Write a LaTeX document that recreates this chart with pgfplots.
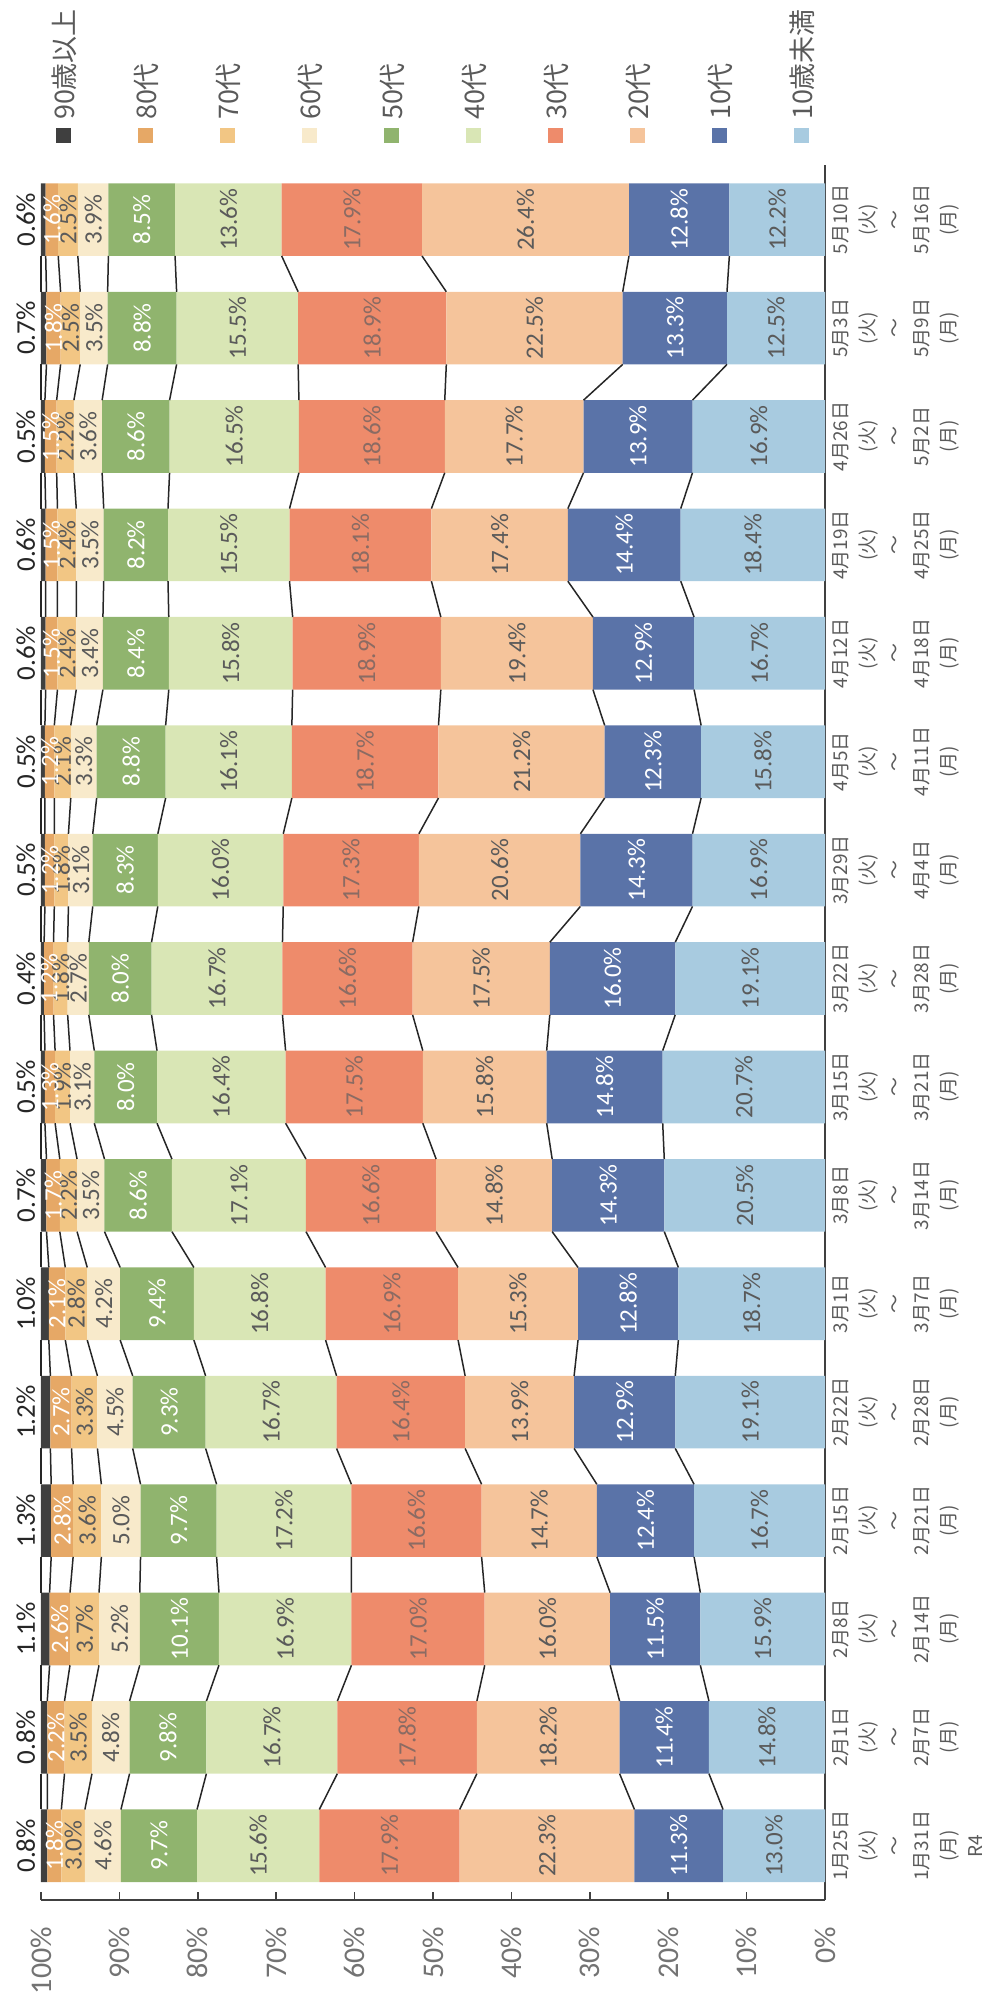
\documentclass[border=0pt]{standalone}
\usepackage{fontspec}
\setmainfont{Carlito}
\newfontfamily\jp{Noto Sans CJK JP}
\usepackage{pgfplots}
\pgfplotsset{compat=1.18}
\usepackage{pgfplotstable}

\definecolor{s0}{HTML}{A8CBE0}
\definecolor{s1}{HTML}{5A73A8}
\definecolor{s2}{HTML}{F5C49B}
\definecolor{s3}{HTML}{EE8B6B}
\definecolor{s4}{HTML}{D9E6B5}
\definecolor{s5}{HTML}{90B46E}
\definecolor{s6}{HTML}{F8EACB}
\definecolor{s7}{HTML}{F2C684}
\definecolor{s8}{HTML}{E6A866}
\definecolor{s9}{HTML}{3F3F3F}
\definecolor{txtdark}{HTML}{5A5A5A}
\definecolor{txtred}{HTML}{8B6B63}
\definecolor{axcol}{HTML}{404040}

% columns: a0 = under 10, a1 = 10s, ..., a8 = 80s, a9 = 90 and over
\pgfplotstableread{
idx a0 a1 a2 a3 a4 a5 a6 a7 a8 a9
0 13.0 11.3 22.3 17.9 15.6 9.7 4.6 3.0 1.8 0.8
1 14.8 11.4 18.2 17.8 16.7 9.8 4.8 3.5 2.2 0.8
2 15.9 11.5 16.0 17.0 16.9 10.1 5.2 3.7 2.6 1.1
3 16.7 12.4 14.7 16.6 17.2 9.7 5.0 3.6 2.8 1.3
4 19.1 12.9 13.9 16.4 16.7 9.3 4.5 3.3 2.7 1.2
5 18.7 12.8 15.3 16.9 16.8 9.4 4.2 2.8 2.1 1.0
6 20.5 14.3 14.8 16.6 17.1 8.6 3.5 2.2 1.7 0.7
7 20.7 14.8 15.8 17.5 16.4 8.0 3.1 1.9 1.3 0.5
8 19.1 16.0 17.5 16.6 16.7 8.0 2.7 1.8 1.2 0.4
9 16.9 14.3 20.6 17.3 16.0 8.3 3.1 1.8 1.2 0.5
10 15.8 12.3 21.2 18.7 16.1 8.8 3.3 2.1 1.2 0.5
11 16.7 12.9 19.4 18.9 15.8 8.4 3.4 2.4 1.5 0.6
12 18.4 14.4 17.4 18.1 15.5 8.2 3.5 2.4 1.5 0.6
13 16.9 13.9 17.7 18.6 16.5 8.6 3.6 2.2 1.5 0.5
14 12.5 13.3 22.5 18.9 15.5 8.8 3.5 2.5 1.8 0.7
15 12.2 12.8 26.4 17.9 13.6 8.5 3.9 2.5 1.6 0.6
}\data
% cumulative boundaries c1..c10
\pgfplotstablecreatecol[create col/expr={\thisrow{a0}}]{c1}\data
\pgfplotstablecreatecol[create col/expr={\thisrow{c1}+\thisrow{a1}}]{c2}\data
\pgfplotstablecreatecol[create col/expr={\thisrow{c2}+\thisrow{a2}}]{c3}\data
\pgfplotstablecreatecol[create col/expr={\thisrow{c3}+\thisrow{a3}}]{c4}\data
\pgfplotstablecreatecol[create col/expr={\thisrow{c4}+\thisrow{a4}}]{c5}\data
\pgfplotstablecreatecol[create col/expr={\thisrow{c5}+\thisrow{a5}}]{c6}\data
\pgfplotstablecreatecol[create col/expr={\thisrow{c6}+\thisrow{a6}}]{c7}\data
\pgfplotstablecreatecol[create col/expr={\thisrow{c7}+\thisrow{a7}}]{c8}\data
\pgfplotstablecreatecol[create col/expr={\thisrow{c8}+\thisrow{a8}}]{c9}\data
\pgfplotstablecreatecol[create col/expr={\thisrow{c9}+\thisrow{a9}}]{c10}\data

\newcommand\connector[1]{%
  \def\coords{}%
  \pgfplotsforeachungrouped \i in {0,...,14}{%
    \pgfmathtruncatemacro\j{\i+1}%
    \pgfplotstablegetelem{\i}{c#1}\of\data \let\ya\pgfplotsretval
    \pgfplotstablegetelem{\j}{c#1}\of\data \let\yb\pgfplotsretval
    \pgfmathsetmacro\xa{\i+0.335}%
    \pgfmathsetmacro\xb{\j-0.335}%
    \edef\coords{\coords (\xa,\ya) (\xb,\yb) (\xb,nan)}%
  }%
  \edef\tmp{\noexpand\addplot[conn] coordinates {\coords};}\tmp
}

\pgfplotsset{
  common/.style={
    scale only axis, width=867.25pt, height=392pt,
    at={(0pt,0pt)}, anchor=south west,
    xmin=-0.5, xmax=15.5, ymin=0, ymax=100},
  conn/.style={draw=black!85, line width=0.75pt, unbounded coords=jump, mark=none, forget plot},
  lbl/.style={draw=none, mark=none, forget plot, point meta=explicit,
    nodes near coords={\pgfmathprintnumber[fixed,fixed zerofill,precision=1]{\pgfplotspointmeta}\%},
    nodes near coords style={font=\fontsize{12.5}{14}\selectfont, anchor=center, inner sep=0pt, text=#1}},
}

\begin{document}
\begin{tikzpicture}
\begin{scope}[transform canvas={rotate=90}]
\begin{axis}[common,
  ybar stacked, bar width=0.67,
  axis x line*=bottom, axis y line*=left,
  axis line style={-, draw=axcol, line width=1pt},
  tick align=inside,
  ytick={0,10,...,100},
  yticklabels={0\%,10\%,20\%,30\%,40\%,50\%,60\%,70\%,80\%,90\%,100\%},
  y tick style={draw=axcol, line width=0.8pt}, major tick length=4pt,
  yticklabel style={font=\fontsize{15}{17}\selectfont, text=black!55, xshift=-10pt},
  xtick={0,...,15},
  x tick style={draw=none},
  xticklabels={
    {1月25日\\(火)\\～\\1月31日\\(月)\\R4},
    {2月1日\\(火)\\～\\2月7日\\(月)},
    {2月8日\\(火)\\～\\2月14日\\(月)},
    {2月15日\\(火)\\～\\2月21日\\(月)},
    {2月22日\\(火)\\～\\2月28日\\(月)},
    {3月1日\\(火)\\～\\3月7日\\(月)},
    {3月8日\\(火)\\～\\3月14日\\(月)},
    {3月15日\\(火)\\～\\3月21日\\(月)},
    {3月22日\\(火)\\～\\3月28日\\(月)},
    {3月29日\\(火)\\～\\4月4日\\(月)},
    {4月5日\\(火)\\～\\4月11日\\(月)},
    {4月12日\\(火)\\～\\4月18日\\(月)},
    {4月19日\\(火)\\～\\4月25日\\(月)},
    {4月26日\\(火)\\～\\5月2日\\(月)},
    {5月3日\\(火)\\～\\5月9日\\(月)},
    {5月10日\\(火)\\～\\5月16日\\(月)}},
  xticklabel style={font=\jp\fontsize{9.5}{13.5}\selectfont, align=center, text=txtdark},
  extra x ticks={-0.5,0.5,1.5,2.5,3.5,4.5,5.5,6.5,7.5,8.5,9.5,10.5,11.5,12.5,13.5,14.5,15.5},
  extra x tick labels={},
  extra x tick style={tick align=outside, major tick length=68pt,
    tick style={draw=black!18, densely dotted, line width=0.6pt}},
  reverse legend,
  legend cell align=left,
  legend image code/.code={\path[#1] (0pt,-3.4pt) rectangle (7.5pt,4.1pt);},
  legend style={draw=none, fill=none, at={(1,1)}, anchor=north west,
    xshift=11.25pt, yshift=-5.5pt, inner sep=0pt, outer sep=0pt,
    row sep=28.5pt, column sep=4pt,
    font=\jp\fontsize{13.5}{15}\selectfont, text=txtdark,
    nodes={inner sep=0pt, text height=11pt, text depth=1.5pt}},
]
\addplot[fill=s0, draw=none] table[x=idx, y=a0]{\data};
\addplot[fill=s1, draw=none] table[x=idx, y=a1]{\data};
\addplot[fill=s2, draw=none] table[x=idx, y=a2]{\data};
\addplot[fill=s3, draw=none] table[x=idx, y=a3]{\data};
\addplot[fill=s4, draw=none] table[x=idx, y=a4]{\data};
\addplot[fill=s5, draw=none] table[x=idx, y=a5]{\data};
\addplot[fill=s6, draw=none] table[x=idx, y=a6]{\data};
\addplot[fill=s7, draw=none] table[x=idx, y=a7]{\data};
\addplot[fill=s8, draw=none] table[x=idx, y=a8]{\data};
\addplot[fill=s9, draw=none] table[x=idx, y=a9]{\data};
\legend{10歳未満,10代,20代,30代,40代,50代,60代,70代,80代,90歳以上}
\end{axis}
\begin{axis}[common, hide axis, clip=false,
  /pgf/number format/assume math mode=true]
\connector{1}\connector{2}\connector{3}\connector{4}\connector{5}
\connector{6}\connector{7}\connector{8}\connector{9}\connector{10}
\addplot[lbl=txtdark] table[x=idx, y expr=0.5*\thisrow{a0}, meta=a0]{\data};
\addplot[lbl=white] table[x=idx, y expr=\thisrow{c1}+0.5*\thisrow{a1}, meta=a1]{\data};
\addplot[lbl=txtdark] table[x=idx, y expr=\thisrow{c2}+0.5*\thisrow{a2}, meta=a2]{\data};
\addplot[lbl=txtred] table[x=idx, y expr=\thisrow{c3}+0.5*\thisrow{a3}, meta=a3]{\data};
\addplot[lbl=txtdark] table[x=idx, y expr=\thisrow{c4}+0.5*\thisrow{a4}, meta=a4]{\data};
\addplot[lbl=white] table[x=idx, y expr=\thisrow{c5}+0.5*\thisrow{a5}, meta=a5]{\data};
\addplot[lbl=txtdark] table[x=idx, y expr=\thisrow{c6}+0.5*\thisrow{a6}, meta=a6]{\data};
\addplot[lbl=txtdark] table[x=idx, y expr=\thisrow{c7}+0.5*\thisrow{a7}, meta=a7]{\data};
\addplot[lbl=white] table[x=idx, y expr=\thisrow{c8}+0.5*\thisrow{a8}, meta=a8]{\data};
\addplot[lbl=black!85, nodes near coords style={anchor=base, yshift=3pt, font=\fontsize{13.5}{15}\selectfont}]
  table[x=idx, y=c10, meta=a9]{\data};
\end{axis}
\end{scope}
\pgfresetboundingbox
\path (-412.5pt,-53pt) rectangle (81pt,950pt);
\end{tikzpicture}
\end{document}
